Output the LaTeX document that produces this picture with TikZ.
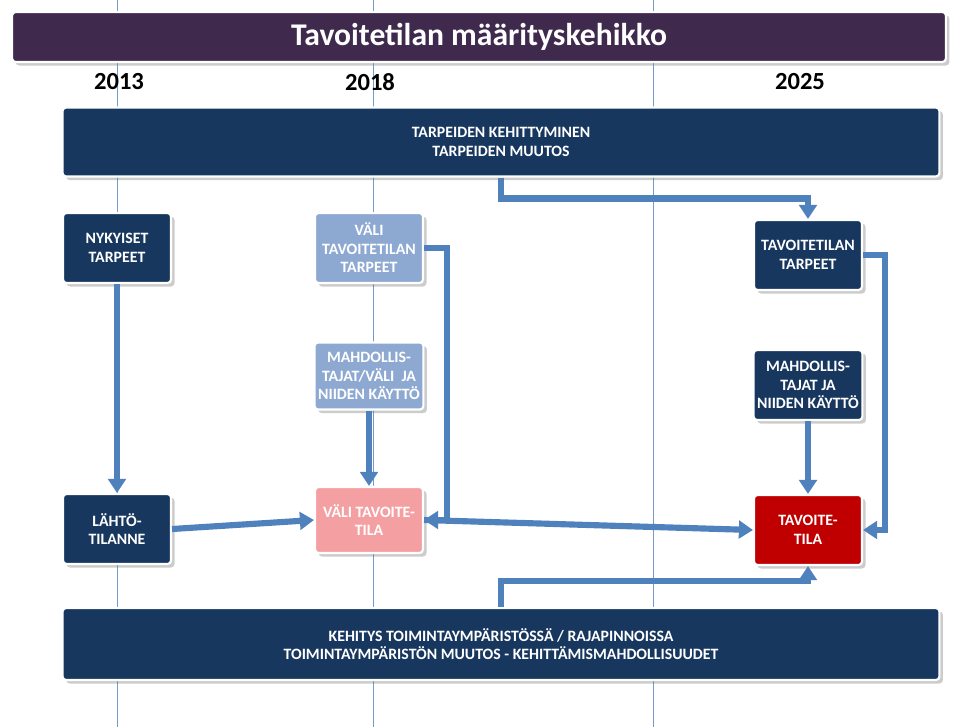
\documentclass[tikz,border=0pt]{standalone}
\usepackage{fontspec}
\setmainfont{Carlito}
\usetikzlibrary{arrows.meta, positioning, shadows}

\definecolor{navy}{HTML}{17375E}
\definecolor{paleblue}{HTML}{8EA9D1}
\definecolor{pink}{HTML}{F4A0A2}
\definecolor{darkred}{HTML}{C00000}
\definecolor{flow}{HTML}{4F81BD}
\definecolor{titlebg}{HTML}{3F2A4E}

\begin{document}
\begin{tikzpicture}[
  x=0.02cm, y=-0.02cm,
  box/.style = {draw=white, line width=1.2pt, rounded corners=2pt, fill=navy,
    text=white, font=\fontsize{9}{10.5}\selectfont\bfseries, align=center,
    minimum width=2.16cm, minimum height=1.4cm, inner sep=2pt,
    drop shadow={shadow xshift=2pt, shadow yshift=-2pt, opacity=0.4}},
  bar/.style = {box, minimum width=17.54cm, minimum height=1.38cm},
  flowline/.style = {flow, line width=3.5pt},
  arrow/.style = {flowline, -{Triangle[length=8pt,width=10pt]}},
  year/.style = {font=\fontsize{14}{16}\selectfont\bfseries}
]

\useasboundingbox (0,0) rectangle (959,727);

% Timeline guides
\foreach \gx in {117,373,653}
  \draw[flow!80, line width=0.5pt] (\gx,0) -- (\gx,727);

% Title
\node[box, fill=titlebg, minimum width=18.68cm, minimum height=1cm,
  font=\fontsize{18}{20}\selectfont\bfseries] (title) at (479,37) {Tavoitetilan määrityskehikko};

% Years
\node[year] (y2013) at (119,82) {2013};
\node[year] (y2018) at (370,82) {2018};
\node[year] (y2025) at (800,82) {2025};

% Bars
\node[bar] (needs) at (501,142) {TARPEIDEN KEHITTYMINEN\\TARPEIDEN MUUTOS};
\node[bar, minimum height=1.44cm] (env) at (501,644)
  {KEHITYS TOIMINTAYMPÄRISTÖSSÄ / RAJAPINNOISSA\\TOIMINTAYMPÄRISTÖN MUUTOS - KEHITTÄMISMAHDOLLISUUDET};

% Boxes
\node[box] (nowneeds) at (117,248) {NYKYISET\\TARPEET};
\node[box] (start) at (117,529) {LÄHTÖ-\\TILANNE};
\node[box, fill=paleblue] (midneeds) at (369,248) {VÄLI\\TAVOITETILAN\\TARPEET};
\node[box, fill=paleblue, minimum height=1.34cm] (midenab) at (369,376) {MAHDOLLIS-\\TAJAT/VÄLI\ \ JA\\NIIDEN KÄYTTÖ};
\node[box, fill=pink, minimum height=1.32cm] (midgoal) at (369,520) {VÄLI TAVOITE-\\TILA};
\node[box] (goalneeds) at (808,255) {TAVOITETILAN\\TARPEET};
\node[box] (enab) at (808,385) {MAHDOLLIS-\\TAJAT JA\\NIIDEN KÄYTTÖ};
\node[box, fill=darkred] (goal) at (808,530) {TAVOITE-\\TILA};

% Connectors
\draw[arrow] (needs.south) -- ++(0,21) -| (goalneeds.north);
\draw[arrow] (nowneeds.south) -- (start.north);
\draw[arrow] (midneeds.east) -- ++(23,0) |- (midgoal.east);
\draw[arrow] (midenab.south) -- (midgoal.north);
\draw[arrow] (start.east) -- (midgoal.west);
\draw[arrow] (midgoal.east) -- (goal.west);
\draw[arrow] (goalneeds.east) -- ++(22,0) |- (goal.east);
\draw[arrow] (enab.south) -- (goal.north);
\draw[arrow] (env.north) -- ++(0,-26) -| (goal.south);

\end{tikzpicture}
\end{document}
